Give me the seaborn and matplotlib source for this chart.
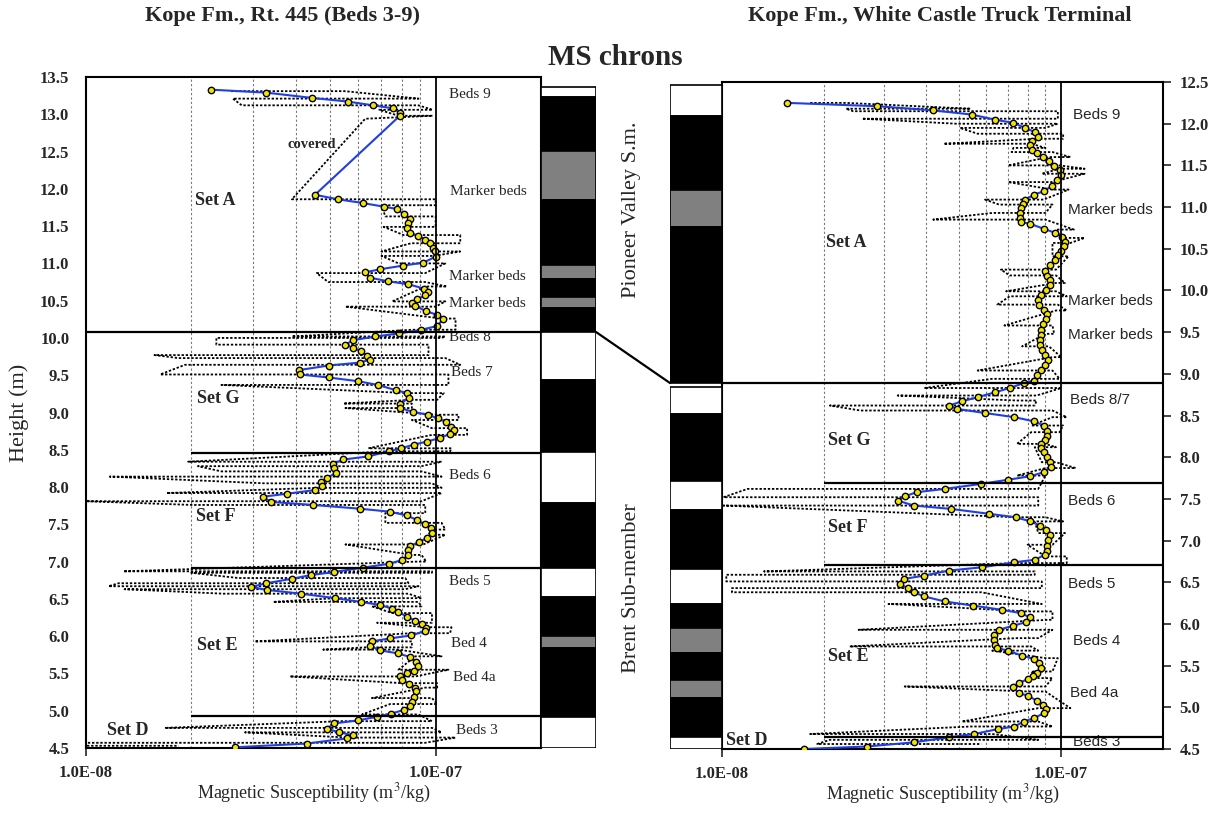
import matplotlib
matplotlib.use("Agg")
import matplotlib.pyplot as plt
import matplotlib.ticker as mticker
from matplotlib.patches import ConnectionPatch
import seaborn as sns

# ================= DATA (MS in units of 1e-8 m3/kg, height in m) =================
UNIT = 1e-8

# Rt. 445 smoothed curve
left_h = [13.33, 13.29, 13.22, 13.17, 13.12, 13.08, 13.02, 12.98, 11.92, 11.86, 11.81, 11.76,
          11.73, 11.66, 11.60, 11.54, 11.48, 11.41, 11.37, 11.32, 11.27, 11.21, 11.16, 11.09,
          11.01, 10.97, 10.92, 10.88, 10.81, 10.76, 10.72, 10.66, 10.62, 10.57, 10.52, 10.47,
          10.43, 10.36, 10.31, 10.26, 10.16, 10.11, 10.06, 10.02, 9.97, 9.91, 9.87, 9.82,
          9.76, 9.71, 9.67, 9.63, 9.57, 9.51, 9.47, 9.42, 9.37, 9.30, 9.26, 9.20, 9.12, 9.06,
          9.01, 8.97, 8.92, 8.87, 8.80, 8.76, 8.71, 8.66, 8.61, 8.57, 8.52, 8.48, 8.41, 8.37,
          8.31, 8.25, 8.19, 8.12, 8.07, 8.01, 7.96, 7.91, 7.87, 7.80, 7.76, 7.71, 7.67, 7.62,
          7.56, 7.50, 7.45, 7.38, 7.32, 7.26, 7.21, 7.16, 7.09, 7.02, 6.97, 6.92, 6.86, 6.82,
          6.77, 6.71, 6.66, 6.62, 6.57, 6.51, 6.46, 6.42, 6.37, 6.33, 6.26, 6.21, 6.17, 6.11,
          6.07, 6.01, 5.97, 5.93, 5.87, 5.81, 5.77, 5.72, 5.66, 5.60, 5.53, 5.50, 5.46, 5.41,
          5.36, 5.31, 5.26, 5.19, 5.12, 5.06, 5.01, 4.96, 4.92, 4.87, 4.83, 4.76, 4.71, 4.67,
          4.63, 4.56, 4.51]
left_ms = [2.28, 3.28, 4.42, 5.61, 6.61, 7.55, 7.92, 7.90, 4.52, 5.25, 6.18, 7.13,
           7.75, 8.10, 8.46, 8.36, 8.26, 8.46, 8.90, 9.34, 9.66, 9.80, 9.98, 10.0,
           9.22, 8.06, 6.91, 6.29, 6.47, 7.30, 8.36, 9.29, 9.50, 9.34, 8.83, 8.55,
           8.74, 9.38, 10.1, 10.53, 10.1, 9.11, 7.86, 6.72, 5.81, 5.52, 5.79, 6.13,
           6.36, 6.50, 6.08, 4.94, 4.08, 4.09, 4.94, 5.99, 6.83, 7.69, 8.30, 8.41, 7.92, 7.92,
           8.60, 9.50, 10.17, 10.72, 11.10, 11.27, 10.96, 10.30, 9.45, 8.67, 7.97, 7.34, 6.40, 5.45,
           5.08, 5.11, 5.18, 4.88, 4.70, 4.72, 4.52, 3.75, 3.20, 3.39, 4.47, 6.06, 7.39, 8.26,
           8.83, 9.34, 9.72, 9.76, 9.45, 8.94, 8.46, 8.36, 8.36, 8.00, 7.34, 6.20, 5.11, 4.40,
           3.88, 3.28, 2.97, 3.30, 4.12, 5.16, 6.11, 6.91, 7.51, 7.83, 8.26, 8.74, 9.16, 9.40,
           9.34, 8.52, 7.39, 6.57, 6.50, 6.93, 7.79, 8.46, 8.77, 8.90, 8.70, 8.26, 7.92, 8.00,
           8.41, 8.74, 8.80, 8.70, 8.58, 8.46, 8.10, 7.45, 6.81, 5.99, 5.13, 4.88, 5.30, 5.81,
           5.59, 4.28, 2.67]

# Rt. 445 raw measurements: per height, the low and high swing
left_raw_h = [13.31, 13.21, 13.12, 13.06, 12.98, 12.94, 11.86, 11.78, 11.63, 11.49, 11.38, 11.27,
              11.16, 11.10, 11.00, 10.87, 10.75, 10.69, 10.49, 10.42, 10.26, 10.11, 10.02, 10.00,
              9.91, 9.77, 9.73, 9.64, 9.51, 9.37, 9.26, 9.17, 9.12, 9.06, 8.97, 8.90, 8.79, 8.70,
              8.52, 8.48, 8.34, 8.28, 8.21, 8.14, 8.05, 7.99, 7.92, 7.81, 7.76, 7.65, 7.52, 7.43,
              7.36, 7.23, 7.09, 7.00, 6.87, 6.85, 6.78, 6.71, 6.67, 6.63, 6.57, 6.51, 6.46, 6.40,
              6.31, 6.18, 6.12, 6.04, 5.93, 5.85, 5.82, 5.73, 5.55, 5.46, 5.37, 5.31, 5.17, 5.09,
              4.95, 4.86, 4.77, 4.71, 4.64, 4.57, 4.53]
left_raw_lo = [2.6, 2.63, 2.79, 6.9, 7.83, 6.29, 3.88, 7.0, 7.18, 7.1, 8.1, 8.5,
               7.0, 7.0, 7.83, 4.57, 4.93, 9.34, 7.51, 5.52, 10.4, 8.55, 3.88, 2.36,
               2.36, 1.57, 1.84, 1.92, 1.63, 2.44, 8.36, 8.55, 5.45, 5.52, 10.1, 8.55, 9.76, 9.76,
               6.42, 7.33, 1.96, 2.09, 2.44, 1.17, 3.25, 4.62, 1.70, 1.0, 2.02, 7.18, 7.18, 9.76,
               9.54, 5.52, 8.55, 8.8, 1.28, 2.0, 2.73, 1.24, 1.16, 1.29, 2.47, 5.16, 3.43, 6.57,
               7.51, 6.8, 9.34, 8.55, 3.04, 6.29, 4.77, 8.74, 7.83, 3.83, 8.0, 9.34, 6.57, 7.41,
               6.16, 5.38, 1.68, 2.85, 5.63, 1.0, 1.0]
left_raw_hi = [5.5, 8.93, 8.93, 9.8, 9.8, 6.29, 10.0, 10.0, 10.0, 10.0, 11.76, 11.76,
               11.76, 9.9, 10.66, 9.34, 9.34, 10.77, 10.66, 10.0, 11.4, 11.4, 10.66, 10.4,
               9.54, 9.54, 10.66, 11.76, 10.88, 10.88, 10.55, 10.1, 8.55, 8.55, 11.62, 11.62, 12.3, 12.3,
               11.1, 11.0, 10.4, 9.11, 9.11, 10.4, 9.76, 10.4, 10.4, 9.11, 9.34, 9.34, 10.4, 10.66,
               10.66, 9.22, 9.11, 9.4, 9.76, 9.76, 8.19, 8.36, 8.93, 8.19, 8.36, 9.11, 8.93, 9.11,
               9.76, 9.76, 11.1, 11.0, 8.55, 8.55, 7.83, 10.4, 10.88, 8.74, 10.1, 10.1, 9.76, 10.1,
               8.93, 9.76, 9.76, 10.4, 11.4, 9.34, 1.84]

# White Castle smoothed curve
right_h = [12.25, 12.21, 12.16, 12.11, 12.05, 12.01, 11.95, 11.90, 11.84, 11.79, 11.74, 11.69,
           11.65, 11.60, 11.55, 11.49, 11.44, 11.39, 11.33, 11.25, 11.19, 11.15, 11.09, 11.04,
           10.99, 10.93, 10.87, 10.82, 10.80, 10.74, 10.69, 10.64, 10.58, 10.53, 10.47, 10.42,
           10.37, 10.30, 10.23, 10.17, 10.12, 10.07, 10.01, 9.95, 9.89, 9.83, 9.77, 9.72, 9.66,
           9.60, 9.52, 9.46, 9.40, 9.34, 9.28, 9.22, 9.17, 9.11, 9.05, 8.99, 8.92, 8.89,
           8.83, 8.78, 8.72, 8.67, 8.62, 8.58, 8.53, 8.48, 8.43, 8.38, 8.32, 8.26, 8.21, 8.16,
           8.11, 8.06, 8.00, 7.94, 7.88, 7.82, 7.77, 7.73, 7.68, 7.62, 7.58, 7.53, 7.48, 7.42,
           7.38, 7.32, 7.28, 7.23, 7.18, 7.13, 7.07, 7.01, 6.93, 6.87, 6.83, 6.77, 6.74, 6.68,
           6.64, 6.58, 6.54, 6.48, 6.43, 6.38, 6.33, 6.27, 6.22, 6.17, 6.13, 6.08, 6.02, 5.98,
           5.93, 5.87, 5.81, 5.75, 5.71, 5.68, 5.62, 5.58, 5.53, 5.47, 5.41, 5.37, 5.34, 5.29,
           5.24, 5.17, 5.14, 5.08, 5.03, 4.98, 4.93, 4.87, 4.83, 4.77, 4.74, 4.68, 4.64, 4.58,
           4.53, 4.50]
right_ms = [1.56, 2.87, 4.20, 5.45, 6.37, 7.24, 7.84, 8.37, 8.57, 8.21, 8.08, 8.21,
            8.47, 8.85, 9.22, 9.56, 9.91, 10.02, 9.72, 9.38, 8.90, 8.33, 7.85, 7.74,
            7.60, 7.55, 7.55, 7.60, 8.10, 8.90, 9.63, 10.1, 10.25, 10.2, 10.0, 9.80,
            9.63, 9.27, 9.00, 9.10, 9.30, 9.30, 9.05, 8.75, 8.57, 8.60, 8.90, 9.10, 9.05,
            8.83, 8.75, 8.75, 8.70, 8.70, 8.78, 9.00, 9.16, 9.00, 8.75, 8.52, 8.30, 7.78,
            7.06, 6.41, 5.68, 5.10, 4.68, 4.92, 5.97, 7.29, 8.33, 8.90, 9.10, 9.10, 8.95, 8.75,
            8.75, 8.90, 9.10, 9.30, 9.36, 8.90, 8.08, 6.98, 5.82, 4.54, 3.75, 3.46, 3.30, 3.68,
            4.74, 6.15, 7.35, 8.13, 8.67, 9.05, 9.27, 9.16, 9.10, 9.10, 8.95, 8.40, 7.29, 5.86,
            4.66, 3.95, 3.44, 3.34, 3.53, 3.68, 3.95, 4.54, 5.52, 6.68, 7.62, 8.08, 7.87, 7.24,
            6.57, 6.34, 6.34, 6.41, 6.49, 6.98, 7.67, 8.33, 8.60, 8.75, 8.47, 8.27, 8.00, 7.50,
            7.24, 7.50, 8.00, 8.47, 8.85, 9.05, 8.90, 8.33, 7.78, 7.29, 6.53, 5.55, 4.66, 3.68,
            2.67, 1.74]

# White Castle raw measurements
right_raw_h = [12.25, 12.18, 12.15, 12.06, 12.00, 11.95, 11.88, 11.82, 11.76, 11.71, 11.66, 11.60,
               11.50, 11.46, 11.40, 11.30, 11.21, 11.09, 11.03, 10.93, 10.85, 10.73, 10.63, 10.57,
               10.41, 10.25, 10.18, 10.09, 9.99, 9.93, 9.83, 9.76, 9.58, 9.48, 9.33, 9.20, 9.04,
               8.94, 8.83, 8.74, 8.68, 8.62, 8.56, 8.48, 8.38, 8.30, 8.16, 8.12, 7.94, 7.87, 7.78,
               7.62, 7.52, 7.42, 7.28, 7.23, 7.09, 6.95, 6.81, 6.73, 6.63, 6.59, 6.51, 6.43, 6.38,
               6.24, 6.15, 6.05, 5.93, 5.83, 5.73, 5.68, 5.59, 5.43, 5.35, 5.25, 5.19, 4.99, 4.83,
               4.77, 4.68, 4.61, 4.56]
right_raw_lo = [1.82, 2.32, 2.44, 2.59, 4.91, 5.03, 5.68, 8.57, 4.51, 7.24, 7.15, 9.21,
                6.98, 9.91, 8.78, 6.98, 9.44, 5.97, 6.57, 6.27, 4.20, 9.67, 10.03, 9.44,
                9.44, 6.65, 7.06, 9.67, 6.89, 7.06, 6.49, 9.67, 6.81, 9.00, 7.68, 9.44, 5.68,
                6.27, 3.95, 3.30, 7.42, 2.08, 2.56, 9.44, 8.17, 8.17, 7.42, 8.37, 8.78, 9.00, 7.42,
                1.19, 1.01, 1.01, 7.42, 8.37, 8.57, 7.97, 9.00, 7.42, 1.33, 1.03, 1.03, 1.07, 1.07,
                3.10, 7.97, 9.21, 2.53, 7.42, 2.38, 6.27, 9.00, 8.17, 8.57, 3.46, 7.97, 8.57, 5.10,
                5.41, 1.82, 2.08, 1.91]
right_raw_hi = [2.32, 5.41, 9.79, 9.79, 9.79, 9.00, 10.15, 10.15, 8.17, 9.00, 9.44, 10.66,
                9.91, 11.74, 11.74, 9.44, 10.53, 8.89, 9.44, 9.00, 9.00, 10.92, 11.74, 10.66,
                10.53, 9.67, 9.67, 10.28, 9.67, 10.40, 9.79, 10.40, 9.44, 9.55, 9.21, 10.03, 9.44,
                9.91, 10.03, 8.47, 8.47, 8.37, 9.44, 10.40, 10.15, 9.91, 9.00, 9.67, 9.67, 11.05, 9.00,
                8.57, 8.57, 8.57, 9.00, 10.15, 10.28, 9.44, 10.40, 10.40, 8.37, 8.37, 8.78, 8.78, 5.82,
                8.78, 9.44, 9.44, 9.44, 8.57, 8.17, 8.57, 9.79, 9.44, 9.44, 9.00, 9.00, 10.66, 8.57,
                9.44, 6.27, 8.57, 5.82]

# MS chron columns (top, bottom, fill)
left_chron_top = [13.36, 13.23, 12.51, 11.85, 10.98, 10.79, 10.55, 10.40, 10.08, 9.44, 8.47, 7.79,
                  6.92, 6.53, 6.00, 5.84, 4.92]
left_chron_bot = [13.23, 12.51, 11.85, 10.98, 10.79, 10.55, 10.40, 10.08, 9.44, 8.47, 7.79, 6.92,
                  6.53, 6.00, 5.84, 4.92, 4.50]
left_chron_fill = ["w", "k", "g", "k", "g", "k", "g", "k", "w", "k", "w", "k", "w", "k", "g", "k", "w"]

right_chron_top = [12.47, 12.09, 11.20, 10.76, 8.84, 8.52, 7.71, 7.37, 6.66, 6.24, 5.95, 5.65, 5.33, 5.11, 4.65]
right_chron_bot = [12.09, 11.20, 10.76, 8.89, 8.52, 7.71, 7.37, 6.66, 6.24, 5.95, 5.65, 5.33, 5.11, 4.65, 4.50]
right_chron_fill = ["w", "k", "g", "k", "w", "k", "w", "k", "w", "k", "g", "k", "g", "k", "w"]

# set boundaries (height, starts at MS)
left_sets_h = [10.08, 8.46, 6.91, 4.93]
left_sets_start = [1.0, 2.0, 2.0, 2.0]
right_sets_h = [8.89, 7.69, 6.71, 4.65]
right_sets_start = [1.0, 2.0, 2.0, 2.0]

# labels: (text, MS, height)
left_bed_labels = [("Beds 9", 10.9, 13.26), ("Marker beds", 11.0, 11.97), ("Marker beds", 10.9, 10.83),
                   ("Marker beds", 10.9, 10.46), ("Beds 8", 10.9, 10.0), ("Beds 7", 11.1, 9.53),
                   ("Beds 6", 10.9, 8.16), ("Beds 5", 10.9, 6.73), ("Bed 4", 11.1, 5.90),
                   ("Bed 4a", 11.2, 5.44), ("Beds 3", 11.4, 4.73)]
left_set_labels = [("Set A", 2.05, 11.85), ("Set G", 2.08, 9.19), ("Set F", 2.06, 7.61),
                   ("Set E", 2.08, 5.88), ("Set D", 1.15, 4.73)]
right_bed_labels = [("Beds 9", 10.85, 12.10), ("Marker beds", 10.5, 10.97), ("Marker beds", 10.5, 9.87),
                    ("Marker beds", 10.5, 9.47), ("Beds 8/7", 10.6, 8.69), ("Beds 6", 10.5, 7.48),
                    ("Beds 5", 10.5, 6.48), ("Beds 4", 10.85, 5.79), ("Bed 4a", 10.6, 5.17),
                    ("Beds 3", 10.85, 4.58)]
right_set_labels = [("Set A", 2.03, 10.58), ("Set G", 2.05, 8.20), ("Set F", 2.05, 7.16),
                    ("Set E", 2.05, 5.61), ("Set D", 1.03, 4.60)]
# ===================================================================================

SERIF = ["Liberation Serif", "DejaVu Serif"]
SANS = ["Liberation Sans", "DejaVu Sans"]
sns.set_theme(style="white")
plt.rcParams["font.family"] = SERIF
plt.rcParams["mathtext.fontset"] = "stix"

CHRON_COLORS = {"w": "white", "k": "black", "g": "#808080"}
BLUE = "#1f3fe0"
YELLOW = "#f2e200"


def zigzag(hs, lo, hi):
    xs, ys = [], []
    for i, (h, a, b) in enumerate(zip(hs, lo, hi)):
        pair = (a, b) if i % 2 == 0 else (b, a)
        xs += [pair[0] * UNIT, pair[1] * UNIT]
        ys += [h, h]
    return xs, ys


def bold_ticks(ax):
    for lab in ax.get_xticklabels() + ax.get_yticklabels():
        lab.set_fontweight("bold")
        lab.set_fontsize(12)


def draw_panel(ax, h, ms, raw_h, raw_lo, raw_hi, sets_h, sets_start, ytop):
    ax.set_xscale("log")
    ax.set_xlim(1e-8, 2e-7)
    ax.set_ylim(4.5, ytop)

    rx, ry = zigzag(raw_h, raw_lo, raw_hi)
    sns.lineplot(x=rx, y=ry, sort=False, estimator=None, ax=ax, color="black",
                 lw=1.3, linestyle=(0, (1.3, 1.0)), zorder=2)
    sns.lineplot(x=[v * UNIT for v in ms], y=h, sort=False, estimator=None, ax=ax,
                 color=BLUE, lw=1.5, marker="o", markersize=4.6, markerfacecolor=YELLOW,
                 markeredgecolor="black", markeredgewidth=1.0, zorder=3)

    ax.xaxis.set_minor_locator(mticker.LogLocator(base=10, subs=range(2, 10)))
    ax.grid(which="minor", axis="x", color="#777777", linestyle=(0, (2, 2)), lw=0.8)
    ax.axvline(1e-7, color="black", lw=1.3, zorder=4)
    for y0, x0 in zip(sets_h, sets_start):
        ax.hlines(y0, x0 * UNIT, 2e-7, color="black", lw=1.6, zorder=4)

    ax.set_xticks([1e-8, 1e-7])
    ax.set_xticklabels(["1.0E-08", "1.0E-07"])
    ax.tick_params(axis="x", which="minor", length=0)
    ax.tick_params(axis="both", which="major", direction="out", length=6, width=1.2,
                   bottom=True, pad=6)
    ax.yaxis.set_major_locator(mticker.MultipleLocator(0.5))
    ax.yaxis.set_major_formatter(mticker.FormatStrFormatter("%.1f"))
    for sp in ax.spines.values():
        sp.set_color("black")
        sp.set_linewidth(1.5)
    ax.set_xlabel("Magnetic Susceptibility (m$^3$/kg)", fontsize=13, labelpad=1)


def draw_chron(ax, tops, bots, fills):
    for t, b, f in zip(tops, bots, fills):
        ax.axhspan(b, t, xmin=0, xmax=1, facecolor=CHRON_COLORS[f], edgecolor="black", lw=1.2)
    ax.axis("off")


fig = plt.figure(figsize=(12.21, 8.27), dpi=100)
ax1 = fig.add_axes([0.0704, 0.0955, 0.3726, 0.8114])
ax2 = fig.add_axes([0.5913, 0.0943, 0.3612, 0.8065])
ch1 = fig.add_axes([0.4431, 0.0955, 0.0450, 0.8114], sharey=ax1)
ch2 = fig.add_axes([0.5487, 0.0943, 0.0426, 0.8065], sharey=ax2)

draw_panel(ax1, left_h, left_ms, left_raw_h, left_raw_lo, left_raw_hi,
           left_sets_h, left_sets_start, 13.5)
draw_panel(ax2, right_h, right_ms, right_raw_h, right_raw_lo, right_raw_hi,
           right_sets_h, right_sets_start, 12.5)
ax1.set_ylabel("Height (m)", fontsize=16, labelpad=8)
ax2.yaxis.tick_right()
ax2.tick_params(axis="y", right=True, left=False, direction="out", length=6, width=1.2)
bold_ticks(ax1)
bold_ticks(ax2)

draw_chron(ch1, left_chron_top, left_chron_bot, left_chron_fill)
draw_chron(ch2, right_chron_top, right_chron_bot, right_chron_fill)
ch1.set_ylim(4.5, 13.5)
ch2.set_ylim(4.5, 12.5)

for txt, v, hh in left_bed_labels:
    ax1.text(v * UNIT, hh, txt, fontsize=11, ha="left", va="center", family=SERIF)
for txt, v, hh in left_set_labels:
    ax1.text(v * UNIT, hh, txt, fontsize=13, fontweight="bold", ha="left", va="center")
ax1.text(3.78 * UNIT, 12.59, "covered", fontsize=10.5, fontweight="bold", ha="left", va="center")
for txt, v, hh in right_bed_labels:
    ax2.text(v * UNIT, hh, txt, fontsize=11, ha="left", va="center", family=SANS)
for txt, v, hh in right_set_labels:
    ax2.text(v * UNIT, hh, txt, fontsize=13, fontweight="bold", ha="left", va="center")

con = ConnectionPatch(xyA=(1.0, left_sets_h[0]), coordsA=ch1.get_yaxis_transform(),
                      xyB=(0.0, right_sets_h[0]), coordsB=ch2.get_yaxis_transform(),
                      color="black", lw=1.6)
fig.add_artist(con)

fig.text(0.5176, 0.746, "Pioneer Valley S.m.", rotation=90, fontsize=16, ha="center", va="center")
fig.text(0.5176, 0.289, "Brent Sub-member", rotation=90, fontsize=16, ha="center", va="center")
fig.text(0.231, 0.981, "Kope Fm., Rt. 445 (Beds 3-9)", fontsize=16, fontweight="bold",
         ha="center", va="center")
fig.text(0.770, 0.981, "Kope Fm., White Castle Truck Terminal", fontsize=16, fontweight="bold",
         ha="center", va="center")
fig.text(0.504, 0.931, "MS chrons", fontsize=21, fontweight="bold", ha="center", va="center")

fig.savefig("out.png", dpi=100)
